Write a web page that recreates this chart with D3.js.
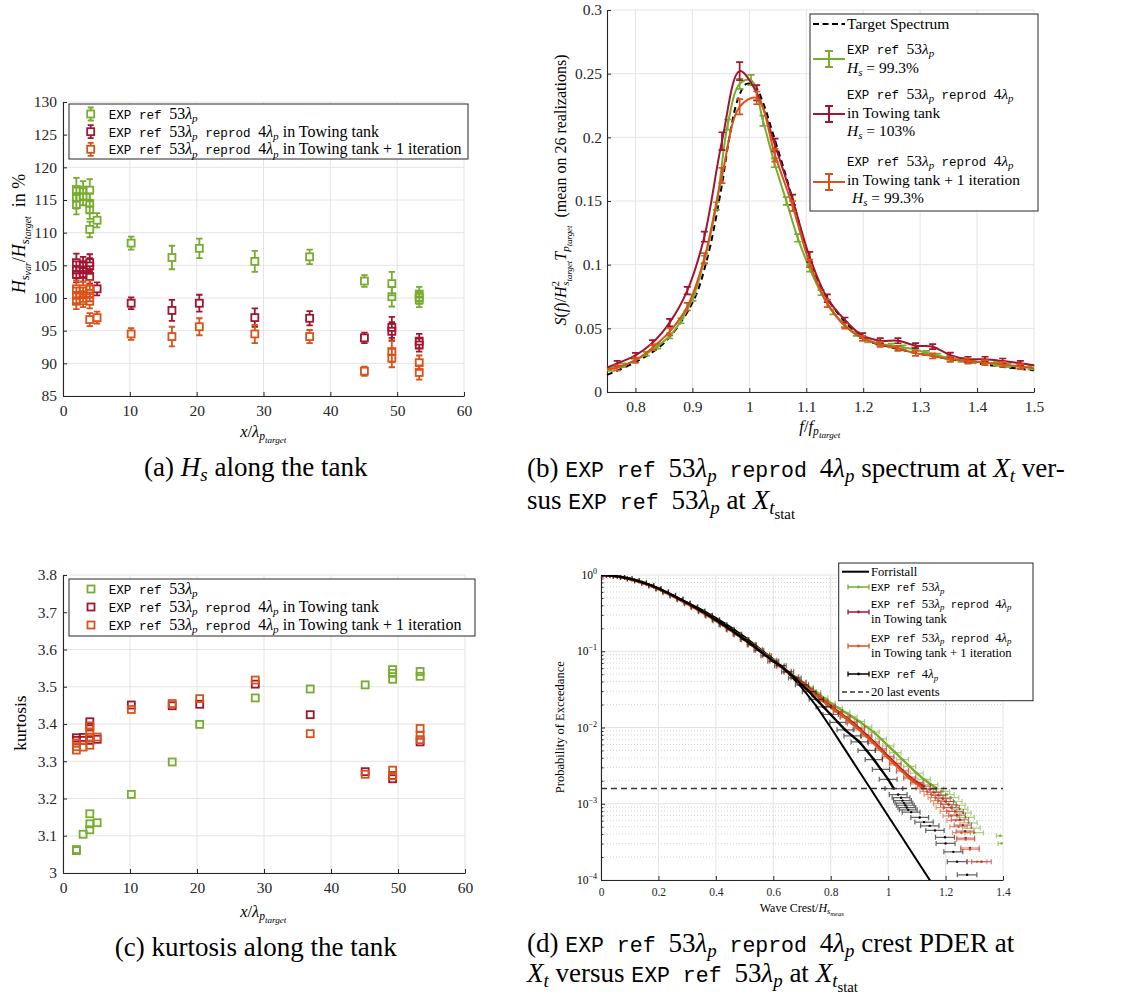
<!DOCTYPE html>
<html>
<head>
<meta charset="utf-8">
<script src="https://cdn.jsdelivr.net/npm/d3@7"></script>
<style>
  body { margin: 0; background: #fff; }
  svg text { white-space: pre; }
</style>
</head>
<body>
<svg id="fig" width="1123" height="997"></svg>
<script>
// ---------------- colours ----------------
const C_GREEN = "#77AC30", C_RED = "#A2142F", C_ORANGE = "#D95319", C_AX = "#262626";

// ---------------- (a) Hs along the tank ----------------
const xTicksTank = [0, 10, 20, 30, 40, 50, 60];
const hsTicks = [85, 90, 95, 100, 105, 110, 115, 120, 125, 130];
const hsGreenX   = [2.0, 2.0, 2.0, 3.0, 3.0, 4.0, 4.0, 4.0, 4.0, 5.1, 10.2, 16.3, 20.4, 28.7, 36.9, 45.1, 49.2, 49.2, 53.3, 53.3, 53.3];
const hsGreen    = [116.6, 115.3, 114.3, 116.5, 115.5, 116.5, 114.5, 113.5, 110.5, 111.9, 108.4, 106.2, 107.6, 105.6, 106.3, 102.6, 102.2, 100.2, 100.6, 100.1, 99.7];
const hsGreenErr = [1.8, 1.6, 1.5, 1.4, 1.3, 1.7, 1.5, 1.4, 1.2, 1.1, 1.0, 1.8, 1.5, 1.6, 1.1, 0.9, 1.8, 1.5, 1.1, 1.0, 1.1];
const hsRedX     = [2.0, 2.0, 2.0, 3.0, 3.0, 3.0, 4.0, 4.0, 4.0, 5.1, 10.2, 16.3, 20.4, 28.7, 36.9, 45.1, 49.2, 49.2, 53.3, 53.3];
const hsRed      = [105.4, 104.3, 103.6, 105.1, 104.3, 103.6, 105.4, 104.9, 103.3, 101.4, 99.2, 98.1, 99.2, 97.0, 96.9, 93.9, 95.5, 94.9, 93.4, 92.8];
const hsRedErr   = [1.4, 1.3, 1.2, 1.2, 1.1, 1.1, 1.3, 1.2, 1.1, 1.0, 0.9, 1.6, 1.3, 1.4, 1.1, 0.8, 1.6, 1.4, 1.1, 1.0];
const hsOrangeX  = [2.0, 2.0, 2.0, 3.0, 3.0, 3.0, 4.0, 4.0, 4.0, 4.0, 5.1, 10.2, 16.3, 20.4, 28.7, 36.9, 45.1, 49.2, 49.2, 53.3, 53.3];
const hsOrange   = [101.4, 100.4, 99.5, 101.4, 100.5, 99.6, 101.4, 100.7, 99.5, 96.7, 97.0, 94.5, 94.1, 95.6, 94.5, 94.1, 88.8, 91.8, 90.8, 90.1, 88.6];
const hsOrangeErr= [1.3, 1.2, 1.2, 1.1, 1.1, 1.0, 1.3, 1.2, 1.1, 1.0, 0.9, 0.9, 1.5, 1.3, 1.4, 1.0, 0.7, 1.6, 1.4, 1.1, 1.1];

// ---------------- (c) kurtosis along the tank ----------------
const kurtTicks = [3.0, 3.1, 3.2, 3.3, 3.4, 3.5, 3.6, 3.7, 3.8];
const kuGreenX  = [2.0, 2.0, 3.0, 4.0, 4.0, 4.0, 5.1, 10.2, 16.3, 20.4, 28.7, 36.9, 45.1, 49.2, 49.2, 49.2, 53.3, 53.3];
const kuGreen   = [3.063, 3.060, 3.104, 3.159, 3.132, 3.116, 3.135, 3.211, 3.298, 3.399, 3.470, 3.494, 3.505, 3.546, 3.536, 3.520, 3.541, 3.528];
const kuRedX    = [2.0, 2.0, 3.0, 3.0, 4.0, 4.0, 4.0, 5.1, 10.2, 16.3, 20.4, 28.7, 36.9, 45.1, 49.2, 49.2, 53.3];
const kuRed     = [3.363, 3.356, 3.364, 3.356, 3.406, 3.392, 3.356, 3.359, 3.451, 3.449, 3.453, 3.507, 3.425, 3.272, 3.253, 3.262, 3.352];
const kuOrangeX = [2.0, 2.0, 2.0, 3.0, 4.0, 4.0, 4.0, 4.0, 5.1, 10.2, 16.3, 20.4, 28.7, 36.9, 45.1, 49.2, 49.2, 53.3, 53.3, 53.3];
const kuOrange  = [3.330, 3.339, 3.349, 3.338, 3.343, 3.365, 3.379, 3.395, 3.365, 3.439, 3.455, 3.468, 3.518, 3.374, 3.265, 3.276, 3.261, 3.388, 3.370, 3.358];

// ---------------- (b) normalised spectra ----------------
const fTicks = [0.8, 0.9, 1.0, 1.1, 1.2, 1.3, 1.4, 1.5];
const sTicks = [0, 0.05, 0.1, 0.15, 0.2, 0.25, 0.3];
const targetF = [0.75, 0.80, 0.85, 0.90, 0.925, 0.95, 0.965, 0.98, 0.995, 1.01, 1.025, 1.04, 1.06, 1.08, 1.10, 1.12, 1.15, 1.20, 1.25, 1.30, 1.35, 1.40, 1.45, 1.50];
const targetS = [0.0134, 0.0235, 0.0385, 0.070, 0.103, 0.158, 0.200, 0.230, 0.242, 0.240, 0.226, 0.205, 0.176, 0.145, 0.112, 0.088, 0.065, 0.042, 0.035, 0.030, 0.026, 0.0225, 0.0195, 0.017];
// first entry of each measured series is the curve start (no error bar)
const specGreenF = [0.75, 0.757, 0.778, 0.798, 0.819, 0.839, 0.860, 0.880, 0.901, 0.921, 0.942, 0.962, 0.983, 1.003, 1.024, 1.044, 1.065, 1.085, 1.106, 1.126, 1.147, 1.167, 1.188, 1.208, 1.229, 1.249, 1.270, 1.290, 1.311, 1.331, 1.352, 1.372, 1.393, 1.413, 1.434, 1.454, 1.475, 1.495];
const specGreen  = [0.0173, 0.0180, 0.0210, 0.0245, 0.0300, 0.0360, 0.0440, 0.0560, 0.0740, 0.1040, 0.1460, 0.2100, 0.2420, 0.2450, 0.2130, 0.1800, 0.1500, 0.1210, 0.0970, 0.0780, 0.0630, 0.0530, 0.0455, 0.0405, 0.0380, 0.0365, 0.0352, 0.0335, 0.0308, 0.0287, 0.0268, 0.0252, 0.0241, 0.0231, 0.0220, 0.0210, 0.0200, 0.0192];
const specGreenErr = [0, 0.0015, 0.0015, 0.0015, 0.0015, 0.002, 0.002, 0.002, 0.0025, 0.003, 0.003, 0.004, 0.004, 0.004, 0.004, 0.0035, 0.003, 0.003, 0.0025, 0.002, 0.002, 0.002, 0.0015, 0.0015, 0.0015, 0.0015, 0.0015, 0.0015, 0.0015, 0.0015, 0.0015, 0.0015, 0.0015, 0.0015, 0.0015, 0.0015, 0.0015, 0.0015];
// first and last entries are the curve ends (no error bar)
const specRedF  = [0.75, 0.768, 0.800, 0.830, 0.860, 0.891, 0.921, 0.952, 0.983, 1.013, 1.045, 1.076, 1.106, 1.137, 1.168, 1.199, 1.230, 1.261, 1.292, 1.322, 1.353, 1.384, 1.414, 1.445, 1.476, 1.5];
const specRed   = [0.0191, 0.0225, 0.0288, 0.0387, 0.0545, 0.0796, 0.122, 0.197, 0.252, 0.235, 0.194, 0.151, 0.106, 0.0736, 0.0565, 0.0442, 0.0403, 0.0403, 0.0364, 0.0356, 0.0290, 0.0257, 0.0257, 0.0243, 0.0225, 0.0210];
const specRedErr = [0, 0.002, 0.002, 0.002, 0.003, 0.003, 0.004, 0.007, 0.007, 0.006, 0.005, 0.004, 0.004, 0.003, 0.002, 0.002, 0.002, 0.002, 0.002, 0.002, 0.002, 0.002, 0.002, 0.002, 0.002, 0];
const specOrangeF = specRedF;
const specOrange  = [0.0178, 0.0190, 0.0250, 0.0348, 0.0474, 0.0670, 0.105, 0.170, 0.224, 0.231, 0.186, 0.146, 0.101, 0.0696, 0.0518, 0.0421, 0.0374, 0.0343, 0.0304, 0.0283, 0.0257, 0.0243, 0.0230, 0.0217, 0.0199, 0.0186];
const specOrangeErr = [0, 0.002, 0.002, 0.002, 0.003, 0.003, 0.004, 0.006, 0.006, 0.005, 0.005, 0.004, 0.003, 0.003, 0.002, 0.002, 0.002, 0.002, 0.002, 0.002, 0.002, 0.002, 0.002, 0.002, 0.002, 0];

// ---------------- (d) crest exceedance probability ----------------
const crestTicks = [0, 0.2, 0.4, 0.6, 0.8, 1.0, 1.2, 1.4];
const probDecades = [-4, -3, -2, -1, 0];
const lastEventsLevel = 0.00158;
const forrCrest = [0, 0.05, 0.1, 0.15, 0.2, 0.25, 0.3, 0.35, 0.4, 0.45, 0.5, 0.55, 0.6, 0.65, 0.7, 0.75, 0.8, 0.85, 0.9, 0.95, 1.0, 1.05, 1.1, 1.15];
const forrProb  = [1, 0.966, 0.891, 0.776, 0.653, 0.537, 0.437, 0.351, 0.275, 0.209, 0.155, 0.110, 0.0794, 0.0525, 0.0331, 0.0191, 0.0100, 0.00513, 0.00263, 0.00135, 0.000692, 0.000355, 0.000182, 0.0000933];

const pdGreenCrest = [0, 0.025, 0.05, 0.075, 0.1, 0.125, 0.15, 0.175, 0.2, 0.225, 0.25, 0.275, 0.3, 0.325, 0.35, 0.375, 0.4, 0.425, 0.45, 0.475, 0.5, 0.525, 0.55, 0.575, 0.6, 0.625, 0.65, 0.675, 0.7, 0.725, 0.75, 0.775, 0.8, 0.825, 0.85, 0.875, 0.9, 0.925, 0.95, 0.975, 1.0, 1.025, 1.05, 1.075, 1.1, 1.125, 1.15,
  1.17, 1.19, 1.205, 1.22, 1.23, 1.24, 1.25, 1.26, 1.27, 1.28, 1.29, 1.30, 1.39, 1.395];
const pdGreenProb = [1, 0.991, 0.968, 0.933, 0.891, 0.841, 0.785, 0.724, 0.661, 0.596, 0.537, 0.479, 0.427, 0.380, 0.335, 0.295, 0.257, 0.224, 0.195, 0.168, 0.145, 0.124, 0.106, 0.0902, 0.0767, 0.0653, 0.0550, 0.0468, 0.0398, 0.0339, 0.0288, 0.0245, 0.0209, 0.0182, 0.0158, 0.0138, 0.0120, 0.0102, 0.00871, 0.00708, 0.00575, 0.00468, 0.00380, 0.00309, 0.00251, 0.00209, 0.00178,
  0.00158, 0.00145, 0.00132, 0.00120, 0.00107, 0.000955, 0.000851, 0.000759, 0.000661, 0.000562, 0.000479, 0.000417, 0.000380, 0.000302];
const pdGreenErr = [0.006, 0.006, 0.007, 0.007, 0.008, 0.008, 0.008, 0.008, 0.008, 0.009, 0.009, 0.009, 0.009, 0.010, 0.010, 0.010, 0.010, 0.010, 0.011, 0.011, 0.011, 0.012, 0.012, 0.012, 0.012, 0.013, 0.013, 0.013, 0.014, 0.014, 0.015, 0.015, 0.016, 0.016, 0.017, 0.017, 0.018, 0.018, 0.019, 0.019, 0.020, 0.020, 0.021, 0.021, 0.022, 0.022, 0.023,
  0.023, 0.024, 0.025, 0.026, 0.027, 0.028, 0.028, 0.029, 0.030, 0.030, 0.031, 0.032, 0.013, 0.012];

const pdRedCrest = [0, 0.025, 0.05, 0.075, 0.1, 0.125, 0.15, 0.175, 0.2, 0.225, 0.25, 0.275, 0.3, 0.325, 0.35, 0.375, 0.4, 0.425, 0.45, 0.475, 0.5, 0.525, 0.55, 0.575, 0.6, 0.625, 0.65, 0.675, 0.7, 0.725, 0.75, 0.775, 0.8, 0.825, 0.85, 0.875, 0.9, 0.925, 0.95, 0.975, 1.0, 1.025, 1.05, 1.075, 1.1, 1.125,
  1.145, 1.16, 1.175, 1.19, 1.20, 1.21, 1.22, 1.233, 1.24, 1.25, 1.26, 1.268, 1.27, 1.285, 1.325];
const pdRedProb = [1, 0.990, 0.966, 0.930, 0.887, 0.837, 0.780, 0.719, 0.656, 0.592, 0.532, 0.475, 0.422, 0.375, 0.331, 0.291, 0.254, 0.221, 0.192, 0.166, 0.143, 0.122, 0.104, 0.0885, 0.0752, 0.0638, 0.0540, 0.0457, 0.0389, 0.0324, 0.0269, 0.0224, 0.0191, 0.0162, 0.0138, 0.0117, 0.00977, 0.00794, 0.00646, 0.00525, 0.00417, 0.00339, 0.00275, 0.00224, 0.00191, 0.00170,
  0.00155, 0.00141, 0.00129, 0.00117, 0.00107, 0.000977, 0.000891, 0.000794, 0.000708, 0.000617, 0.000525, 0.000437, 0.000355, 0.000263, 0.000174];
const pdRedErr = [0.006, 0.006, 0.007, 0.007, 0.008, 0.008, 0.008, 0.008, 0.008, 0.009, 0.009, 0.009, 0.009, 0.010, 0.010, 0.010, 0.010, 0.010, 0.011, 0.011, 0.011, 0.012, 0.012, 0.012, 0.012, 0.013, 0.013, 0.013, 0.014, 0.014, 0.015, 0.015, 0.016, 0.016, 0.017, 0.017, 0.018, 0.018, 0.019, 0.019, 0.020, 0.020, 0.021, 0.021, 0.022, 0.022,
  0.023, 0.024, 0.025, 0.026, 0.027, 0.027, 0.028, 0.029, 0.029, 0.030, 0.030, 0.031, 0.031, 0.032, 0.034];

const pdOrangeCrest = [0, 0.025, 0.05, 0.075, 0.1, 0.125, 0.15, 0.175, 0.2, 0.225, 0.25, 0.275, 0.3, 0.325, 0.35, 0.375, 0.4, 0.425, 0.45, 0.475, 0.5, 0.525, 0.55, 0.575, 0.6, 0.625, 0.65, 0.675, 0.7, 0.725, 0.75, 0.775, 0.8, 0.825, 0.85, 0.875, 0.9, 0.925, 0.95, 0.975, 1.0, 1.025, 1.05, 1.075, 1.1,
  1.12, 1.135, 1.15, 1.165, 1.175, 1.185, 1.195, 1.21, 1.22, 1.235, 1.245, 1.255, 1.27, 1.285, 1.31];
const pdOrangeProb = [1, 0.989, 0.964, 0.927, 0.883, 0.832, 0.775, 0.714, 0.650, 0.586, 0.526, 0.469, 0.417, 0.370, 0.326, 0.287, 0.250, 0.218, 0.189, 0.163, 0.140, 0.120, 0.102, 0.0870, 0.0740, 0.0628, 0.0530, 0.0447, 0.0380, 0.0316, 0.0263, 0.0219, 0.0186, 0.0158, 0.0135, 0.0112, 0.00933, 0.00759, 0.00617, 0.00501, 0.00398, 0.00324, 0.00263, 0.00214, 0.00182,
  0.00158, 0.00145, 0.00132, 0.00120, 0.00110, 0.00100, 0.000891, 0.000794, 0.000692, 0.000603, 0.000501, 0.000417, 0.000339, 0.000251, 0.000174];
const pdOrangeErr = [0.006, 0.006, 0.007, 0.007, 0.008, 0.008, 0.008, 0.008, 0.008, 0.009, 0.009, 0.009, 0.009, 0.010, 0.010, 0.010, 0.010, 0.010, 0.011, 0.011, 0.011, 0.012, 0.012, 0.012, 0.012, 0.013, 0.013, 0.013, 0.014, 0.014, 0.015, 0.015, 0.016, 0.016, 0.017, 0.017, 0.018, 0.018, 0.019, 0.019, 0.020, 0.020, 0.021, 0.021, 0.022,
  0.023, 0.024, 0.025, 0.026, 0.027, 0.027, 0.028, 0.029, 0.029, 0.030, 0.030, 0.031, 0.031, 0.032, 0.034];

const pdBlackCrest = [0, 0.025, 0.05, 0.075, 0.1, 0.125, 0.15, 0.175, 0.2, 0.225, 0.25, 0.275, 0.3, 0.325, 0.35, 0.375, 0.4, 0.425, 0.45, 0.475, 0.5, 0.525, 0.55, 0.575, 0.6, 0.625, 0.65, 0.675, 0.7, 0.725, 0.75, 0.775, 0.8, 0.825, 0.85, 0.875, 0.9, 0.925, 0.95, 0.975, 1.0, 1.02,
  1.035, 1.045, 1.05, 1.055, 1.06, 1.065, 1.07, 1.08, 1.11, 1.125, 1.145, 1.163, 1.198, 1.20, 1.227, 1.24, 1.275];
const pdBlackProb = [1, 0.992, 0.970, 0.936, 0.894, 0.845, 0.790, 0.729, 0.666, 0.601, 0.541, 0.483, 0.430, 0.382, 0.337, 0.296, 0.258, 0.224, 0.194, 0.167, 0.143, 0.122, 0.103, 0.0870, 0.0740, 0.0646, 0.0537, 0.0447, 0.0363, 0.0295, 0.0234, 0.0186, 0.0148, 0.0117, 0.00933, 0.00776, 0.00646, 0.00501, 0.00380, 0.00282, 0.00209, 0.00158,
  0.00132, 0.00120, 0.00110, 0.00102, 0.000955, 0.000891, 0.000832, 0.000776, 0.000661, 0.000575, 0.000513, 0.000447, 0.000363, 0.000302, 0.000234, 0.000174, 0.000117];
const pdBlackErr = [0.006, 0.006, 0.007, 0.007, 0.008, 0.008, 0.008, 0.009, 0.009, 0.010, 0.010, 0.011, 0.011, 0.012, 0.012, 0.013, 0.013, 0.014, 0.014, 0.015, 0.015, 0.016, 0.017, 0.018, 0.019, 0.020, 0.021, 0.022, 0.023, 0.024, 0.025, 0.026, 0.027, 0.028, 0.028, 0.029, 0.029, 0.030, 0.030, 0.030, 0.031, 0.031,
  0.031, 0.031, 0.031, 0.031, 0.031, 0.031, 0.031, 0.031, 0.031, 0.032, 0.032, 0.032, 0.033, 0.033, 0.033, 0.034, 0.034];

// ---------------- text helpers ----------------
const RM = "'Liberation Serif','Times New Roman',serif";
const TT = "'Liberation Mono','Courier New',monospace";
const seg = (t, f, l, extra) => Object.assign({ t, f, l: l || 0 }, extra || {});
const R = (t, l, e) => seg(t, "rm", l, e);
const I = (t, l, e) => seg(t, "it", l, e);
const T = (t, l, e) => seg(t, "tt", l, e);
const lamP = n => [R(n), I("λ"), I("p", 1)];

// level 0 = normal, 1 = subscript, 2 = sub-subscript, -1 = superscript
function rich(parent, segs, o) {
  const size = o.size, ttSize = o.tt || size * 0.8;
  const g = parent.append("g")
    .attr("transform", `translate(${o.x},${o.y})` + (o.rotate ? ` rotate(${o.rotate})` : ""));
  const text = g.append("text").attr("x", 0).attr("fill", o.color || "#000");
  let prev = 0;
  segs.flat().forEach(s => {
    const scale = s.l === 0 ? 1 : (Math.abs(s.l) === 1 ? 0.7 : 0.55);
    const shift = s.l === 0 ? 0 : s.l === 1 ? 0.2 * size : s.l === 2 ? 0.36 * size : -0.42 * size;
    const ts = text.append("tspan").text(s.t)
      .attr("font-family", s.f === "tt" ? TT : RM)
      .attr("font-style", s.f === "it" ? "italic" : "normal")
      .attr("font-size", ((s.f === "tt" ? ttSize : size) * scale).toFixed(2))
      .attr("dy", (shift - prev).toFixed(2));
    if (s.dx) ts.attr("dx", s.dx);
    prev = shift;
  });
  if (o.anchor === "middle" || o.anchor === "end") {
    const bb = text.node().getBBox();
    const shiftX = o.anchor === "middle" ? bb.x + bb.width / 2 : bb.x + bb.width;
    text.attr("x", -shiftX);
  }
  return text;
}

// ---------------- axes helpers ----------------
function grid(g, x, y, xt, yt) {
  const [x0, x1] = x.range(), [y0, y1] = y.range();
  const gg = g.append("g").attr("stroke", "#e4e4e4").attr("stroke-width", 1);
  gg.selectAll("line.gx").data(xt).join("line").attr("class", "gx")
    .attr("x1", d => x(d)).attr("x2", d => x(d)).attr("y1", y0).attr("y2", y1);
  gg.selectAll("line.gy").data(yt).join("line").attr("class", "gy")
    .attr("x1", x0).attr("x2", x1).attr("y1", d => y(d)).attr("y2", d => y(d));
}
function axes(g, x, y, xt, yt, o) {
  const [x0] = x.range(), [y0] = y.range();
  const ax = g.append("g").attr("transform", `translate(0,${y0})`)
    .call(d3.axisBottom(x).tickValues(xt).tickFormat(o.fx).tickSizeInner(-(o.tick || 4)).tickSizeOuter(0).tickPadding(o.px));
  const ay = g.append("g").attr("transform", `translate(${x0},0)`)
    .call(d3.axisLeft(y).tickValues(yt).tickFormat(o.fy).tickSizeInner(-(o.tick || 4)).tickSizeOuter(0).tickPadding(o.py));
  [ax, ay].forEach(a => {
    a.attr("font-family", RM);
    a.select(".domain").attr("stroke", C_AX).attr("stroke-width", 1.1);
    a.selectAll(".tick line").attr("stroke", C_AX);
    a.selectAll(".tick text").attr("font-family", RM).attr("font-size", o.size).attr("fill", C_AX);
  });
}
const fmt = d3.format("~g");

// square markers with vertical error bars (bars stop at the square edge)
function squareSeries(g, x, y, xs, vs, es, color) {
  const pts = xs.map((xv, i) => ({ x: xv, v: vs[i], e: es ? es[i] : 0 }));
  const h = 3.5, cap = 3.2;
  const s = g.append("g").attr("stroke", color).attr("stroke-width", 1.8).attr("fill", "none");
  if (es) {
    s.selectAll("path.eb").data(pts).join("path").attr("class", "eb")
      .attr("d", d => {
        const cx = x(d.x), cy = y(d.v), yt = y(d.v + d.e), yb = y(d.v - d.e);
        return `M${cx},${cy - h}V${yt}M${cx - cap},${yt}H${cx + cap}` +
               `M${cx},${cy + h}V${yb}M${cx - cap},${yb}H${cx + cap}`;
      });
  }
  s.selectAll("rect").data(pts).join("rect")
    .attr("x", d => x(d.x) - h).attr("y", d => y(d.v) - h)
    .attr("width", 2 * h).attr("height", 2 * h);
}

const svg = d3.select("#fig");
const CAP_RM = 27, CAP_TT = 21.5;

// ======================= (a) =======================
{
  const g = svg.append("g");
  const x = d3.scaleLinear().domain([0, 60]).range([63, 464]);
  const y = d3.scaleLinear().domain([85, 130]).range([396, 102]);
  grid(g, x, y, xTicksTank, hsTicks);
  axes(g, x, y, xTicksTank, hsTicks, { fx: fmt, fy: fmt, size: 15.5, px: 9, py: 6 });
  squareSeries(g, x, y, hsGreenX, hsGreen, hsGreenErr, C_GREEN);
  squareSeries(g, x, y, hsRedX, hsRed, hsRedErr, C_RED);
  squareSeries(g, x, y, hsOrangeX, hsOrange, hsOrangeErr, C_ORANGE);

  rich(g, [I("x"), R("/"), I("λ"), I("p", 1), I("target", 2)], { x: 263, y: 437, size: 16.5, anchor: "middle" });
  rich(g, [I("H"), I("s", 1), I("var", 2), R("/"), I("H"), I("s", 1), I("target", 2), R("  in %")],
       { x: 25, y: 234, size: 18, anchor: "middle", rotate: -90 });

  // legend
  const lg = g.append("g");
  lg.append("rect").attr("x", 69).attr("y", 104).attr("width", 399).attr("height", 55)
    .attr("fill", "#fff").attr("stroke", C_AX).attr("stroke-width", 1);
  const rows = [
    { c: C_GREEN, y: 114, t: [T("EXP ref "), lamP("53")] },
    { c: C_RED, y: 131.7, t: [T("EXP ref "), lamP("53"), T(" reprod "), lamP("4"), R(" in Towing tank")] },
    { c: C_ORANGE, y: 149.3, t: [T("EXP ref "), lamP("53"), T(" reprod "), lamP("4"), R(" in Towing tank + 1 iteration")] }
  ];
  rows.forEach(r => {
    lg.append("path").attr("stroke", r.c).attr("stroke-width", 1.8).attr("fill", "none")
      .attr("d", `M90.7,${r.y - 3.5}V${r.y - 6.5}M87.7,${r.y - 6.5}H93.7M90.7,${r.y + 3.5}V${r.y + 6.5}M87.7,${r.y + 6.5}H93.7`);
    lg.append("rect").attr("x", 87.2).attr("y", r.y - 3.5).attr("width", 7).attr("height", 7)
      .attr("fill", "none").attr("stroke", r.c).attr("stroke-width", 1.8);
    rich(lg, r.t, { x: 108.7, y: r.y + 5, size: 16, tt: 12.6 });
  });

  rich(svg, [R("(a) "), I("H"), I("s", 1), R(" along the tank")], { x: 256, y: 476, size: CAP_RM, anchor: "middle" });
}

// ======================= (c) =======================
{
  const g = svg.append("g");
  const x = d3.scaleLinear().domain([0, 60]).range([63, 465]);
  const y = d3.scaleLinear().domain([3.0, 3.8]).range([873, 575]);
  grid(g, x, y, xTicksTank, kurtTicks);
  axes(g, x, y, xTicksTank, kurtTicks, { fx: fmt, fy: fmt, size: 15.5, px: 9, py: 6 });
  squareSeries(g, x, y, kuGreenX, kuGreen, null, C_GREEN);
  squareSeries(g, x, y, kuRedX, kuRed, null, C_RED);
  squareSeries(g, x, y, kuOrangeX, kuOrange, null, C_ORANGE);

  rich(g, [I("x"), R("/"), I("λ"), I("p", 1), I("target", 2)], { x: 263, y: 917, size: 16.5, anchor: "middle" });
  rich(g, [R("kurtosis")], { x: 26, y: 723, size: 17.5, anchor: "middle", rotate: -90 });

  const lg = g.append("g");
  lg.append("rect").attr("x", 69).attr("y", 579).attr("width", 406).attr("height", 57)
    .attr("fill", "#fff").attr("stroke", C_AX).attr("stroke-width", 1);
  const rows = [
    { c: C_GREEN, y: 589, t: [T("EXP ref "), lamP("53")] },
    { c: C_RED, y: 607, t: [T("EXP ref "), lamP("53"), T(" reprod "), lamP("4"), R(" in Towing tank")] },
    { c: C_ORANGE, y: 625, t: [T("EXP ref "), lamP("53"), T(" reprod "), lamP("4"), R(" in Towing tank + 1 iteration")] }
  ];
  rows.forEach(r => {
    lg.append("rect").attr("x", 87.5).attr("y", r.y - 3.5).attr("width", 7).attr("height", 7)
      .attr("fill", "none").attr("stroke", r.c).attr("stroke-width", 1.8);
    rich(lg, r.t, { x: 108.7, y: r.y + 5, size: 16, tt: 12.6 });
  });

  rich(svg, [R("(c) kurtosis along the tank")], { x: 256, y: 956, size: CAP_RM, anchor: "middle" });
}

// ======================= (b) =======================
{
  const g = svg.append("g");
  const x = d3.scaleLinear().domain([0.75, 1.5]).range([607, 1034]);
  const y = d3.scaleLinear().domain([0, 0.3]).range([392, 10]);
  grid(g, x, y, fTicks, sTicks);
  axes(g, x, y, fTicks, sTicks, { fx: fmt, fy: fmt, size: 15.5, px: 9, py: 5 });

  const line = d3.line().x(d => x(d.f)).y(d => y(d.s)).curve(d3.curveCatmullRom.alpha(0.5));
  const zip = (fs, ss, es) => fs.map((f, i) => ({ f, s: ss[i], e: es ? es[i] : 0 }));

  g.append("path").datum(zip(targetF, targetS)).attr("d", line)
    .attr("fill", "none").attr("stroke", "#000").attr("stroke-width", 2).attr("stroke-dasharray", "6,4");

  [[specGreenF, specGreen, specGreenErr, C_GREEN],
   [specRedF, specRed, specRedErr, C_RED],
   [specOrangeF, specOrange, specOrangeErr, C_ORANGE]].forEach(([fs, ss, es, c]) => {
    const pts = zip(fs, ss, es);
    const sg = g.append("g");
    sg.append("path").datum(pts).attr("d", line).attr("fill", "none").attr("stroke", c).attr("stroke-width", 2);
    sg.selectAll("path.eb").data(pts.filter(d => d.e > 0)).join("path").attr("class", "eb")
      .attr("stroke", c).attr("stroke-width", 1.7).attr("fill", "none")
      .attr("d", d => {
        const cx = x(d.f), yt = y(d.s + d.e), yb = y(d.s - d.e);
        return `M${cx},${yt}V${yb}M${cx - 3.5},${yt}H${cx + 3.5}M${cx - 3.5},${yb}H${cx + 3.5}`;
      });
  });

  rich(g, [I("f"), R("/"), I("f"), I("p", 1), I("target", 2)], { x: 820, y: 432, size: 16.5, anchor: "middle" });
  rich(g, [I("S"), R("("), I("f"), R(")"), R("/"), I("H"), R("2", -1), I("s", 1, { dx: -5 }), I("target", 2),
           I("T"), I("p", 1), I("target", 2), R("  (mean on 26 realizations)")],
       { x: 566, y: 190, size: 16, anchor: "middle", rotate: -90 });

  // legend
  const LS = 15.5, LT = 12.4;
  const lg = g.append("g");
  lg.append("rect").attr("x", 810).attr("y", 14).attr("width", 228).attr("height", 197)
    .attr("fill", "#fff").attr("stroke", C_AX).attr("stroke-width", 1);
  lg.append("line").attr("x1", 813).attr("x2", 845).attr("y1", 24).attr("y2", 24)
    .attr("stroke", "#000").attr("stroke-width", 2).attr("stroke-dasharray", "6,3.5");
  rich(lg, [R("Target Spectrum")], { x: 847, y: 29.3, size: LS });
  const sym = (yc, c) => {
    lg.append("path").attr("stroke", c).attr("stroke-width", 2).attr("fill", "none")
      .attr("d", `M813,${yc}H845M829,${yc - 8}V${yc + 8}M825,${yc - 8}H833M825,${yc + 8}H833`);
  };
  sym(59, C_GREEN);
  rich(lg, [T("EXP ref "), lamP("53")], { x: 847, y: 53.5, size: LS, tt: LT });
  rich(lg, [I("H"), I("s", 1), R(" = 99.3%")], { x: 847, y: 73, size: LS });
  sym(114, C_RED);
  rich(lg, [T("EXP ref "), lamP("53"), T(" reprod "), lamP("4")], { x: 847, y: 98.5, size: LS, tt: LT });
  rich(lg, [R("in Towing tank")], { x: 847, y: 118, size: LS });
  rich(lg, [I("H"), I("s", 1), R(" = 103%")], { x: 847, y: 136, size: LS });
  sym(182, C_ORANGE);
  rich(lg, [T("EXP ref "), lamP("53"), T(" reprod "), lamP("4")], { x: 847, y: 165.5, size: LS, tt: LT });
  rich(lg, [R("in Towing tank + 1 iteration")], { x: 847, y: 185, size: LS });
  rich(lg, [I("H"), I("s", 1), R(" = 99.3%")], { x: 852, y: 203, size: LS });

  const cap = svg.append("g");
  rich(cap, [R("(b) "), T("EXP ref "), lamP("53"), T(" reprod "), lamP("4"), R(" spectrum at "), I("X"), I("t", 1), R(" ver-")],
       { x: 527, y: 477, size: CAP_RM, tt: CAP_TT });
  rich(cap, [R("sus "), T("EXP ref "), lamP("53"), R(" at "), I("X"), I("t", 1), R("stat", 2)],
       { x: 527, y: 509, size: CAP_RM, tt: CAP_TT });
}

// ======================= (d) =======================
{
  const g = svg.append("g");
  const x = d3.scaleLinear().domain([0, 1.4]).range([601, 1003]);
  const y = d3.scaleLog().domain([1e-4, 1]).range([880, 575]);
  const decadeVals = probDecades.map(e => Math.pow(10, e));
  const minorVals = [];
  probDecades.slice(0, -1).forEach(e => { for (let k = 2; k <= 9; k++) minorVals.push(k * Math.pow(10, e)); });

  // minor (dotted) and major grid
  g.append("g").attr("stroke", "#d4d4d4").attr("stroke-dasharray", "1,2")
    .selectAll("line").data(minorVals).join("line")
    .attr("x1", 601).attr("x2", 1003).attr("y1", d => y(d)).attr("y2", d => y(d));
  grid(g, x, y, crestTicks, decadeVals);

  axes(g, x, y, crestTicks, decadeVals, { fx: fmt, fy: () => "", size: 11.5, px: 8, py: 4, tick: 4 });
  g.append("g").attr("transform", "translate(601,0)")
    .call(d3.axisLeft(y).tickValues(minorVals).tickFormat(() => "").tickSizeInner(-2.5).tickSizeOuter(0))
    .call(a => { a.select(".domain").remove(); a.selectAll("line").attr("stroke", C_AX); });
  probDecades.forEach(e => {
    rich(g, [R("10"), R(e === 0 ? "0" : "−" + (-e), -1)], { x: 597, y: y(Math.pow(10, e)) + 4, size: 11.5, anchor: "end" });
  });

  g.append("clipPath").attr("id", "clipD").append("rect").attr("x", 601).attr("y", 575).attr("width", 402).attr("height", 305);
  const plot = g.append("g").attr("clip-path", "url(#clipD)");

  const line = d3.line().x(d => x(d.c)).y(d => y(d.p)).curve(d3.curveLinear);
  plot.append("path").datum(forrCrest.map((c, i) => ({ c, p: forrProb[i] }))).attr("d", line)
    .attr("fill", "none").attr("stroke", "#000").attr("stroke-width", 2);

  const series = [
    [pdGreenCrest, pdGreenProb, pdGreenErr, C_GREEN],
    [pdRedCrest, pdRedProb, pdRedErr, C_RED],
    [pdOrangeCrest, pdOrangeProb, pdOrangeErr, C_ORANGE],
    [pdBlackCrest, pdBlackProb, pdBlackErr, "#000"]
  ];
  series.forEach(([cs, ps, es, col]) => {
    const pts = cs.map((c, i) => ({ c, p: ps[i], e: es[i] }));
    const sg = plot.append("g");
    sg.append("g").attr("stroke", col).attr("stroke-width", 1.2).attr("fill", "none").attr("opacity", 0.6)
      .selectAll("path").data(pts).join("path")
      .attr("d", d => {
        const yy = y(d.p), xl = x(d.c - d.e), xr = x(d.c + d.e);
        return `M${xl},${yy}H${xr}M${xl},${yy - 2.5}V${yy + 2.5}M${xr},${yy - 2.5}V${yy + 2.5}`;
      });
    sg.append("path").datum(pts.filter(d => d.p >= lastEventsLevel)).attr("d", line)
      .attr("fill", "none").attr("stroke", col).attr("stroke-width", 2.4);
    sg.selectAll("circle").data(pts).join("circle")
      .attr("cx", d => x(d.c)).attr("cy", d => y(d.p)).attr("r", 1.2).attr("fill", col);
  });

  g.append("line").attr("x1", 601).attr("x2", 1003).attr("y1", y(lastEventsLevel)).attr("y2", y(lastEventsLevel))
    .attr("stroke", "#333").attr("stroke-width", 1.5).attr("stroke-dasharray", "6,4");

  rich(g, [R("Wave Crest/"), I("H"), I("s", 1), I("meas", 2)], { x: 802, y: 912, size: 12, anchor: "middle" });
  rich(g, [R("Probability of Exceedance")], { x: 564, y: 727, size: 12.5, anchor: "middle", rotate: -90 });

  // legend
  const lg = g.append("g");
  lg.append("rect").attr("x", 838.7).attr("y", 563).attr("width", 194.3).attr("height", 137.7)
    .attr("fill", "#fff").attr("stroke", C_AX).attr("stroke-width", 1);
  lg.append("line").attr("x1", 842).attr("x2", 869).attr("y1", 571.7).attr("y2", 571.7).attr("stroke", "#000").attr("stroke-width", 2);
  const LS = 12.6, LT = 10.6;
  rich(lg, [R("Forristall")], { x: 871, y: 575.8, size: LS });
  const sym = (yc, c) => {
    lg.append("path").attr("stroke", c).attr("stroke-width", 1.3).attr("fill", "none")
      .attr("d", `M848,${yc}H869M848,${yc - 2.5}V${yc + 2.5}M869,${yc - 2.5}V${yc + 2.5}`);
    lg.append("circle").attr("cx", 858.5).attr("cy", yc).attr("r", 1.4).attr("fill", c);
  };
  sym(587, C_GREEN);
  rich(lg, [T("EXP ref "), lamP("53")], { x: 871, y: 591, size: LS, tt: LT });
  sym(612, C_RED);
  rich(lg, [T("EXP ref "), lamP("53"), T(" reprod "), lamP("4")], { x: 871, y: 607.5, size: LS, tt: LT });
  rich(lg, [R("in Towing tank")], { x: 871, y: 622.5, size: LS });
  sym(646, C_ORANGE);
  rich(lg, [T("EXP ref "), lamP("53"), T(" reprod "), lamP("4")], { x: 871, y: 641.5, size: LS, tt: LT });
  rich(lg, [R("in Towing tank + 1 iteration")], { x: 871, y: 656.5, size: LS });
  sym(674, "#000");
  rich(lg, [T("EXP ref "), lamP("4")], { x: 871, y: 678, size: LS, tt: LT });
  lg.append("line").attr("x1", 842).attr("x2", 869).attr("y1", 692).attr("y2", 692)
    .attr("stroke", "#333").attr("stroke-width", 1.5).attr("stroke-dasharray", "5,3");
  rich(lg, [R("20 last events")], { x: 871, y: 696, size: LS });

  const cap = svg.append("g");
  rich(cap, [R("(d) "), T("EXP ref "), lamP("53"), T(" reprod "), lamP("4"), R(" crest PDER at")],
       { x: 527, y: 952, size: CAP_RM, tt: CAP_TT });
  rich(cap, [I("X"), I("t", 1), R(" versus "), T("EXP ref "), lamP("53"), R(" at "), I("X"), I("t", 1), R("stat", 2)],
       { x: 527, y: 982, size: CAP_RM, tt: CAP_TT });
}
</script>
</body>
</html>
